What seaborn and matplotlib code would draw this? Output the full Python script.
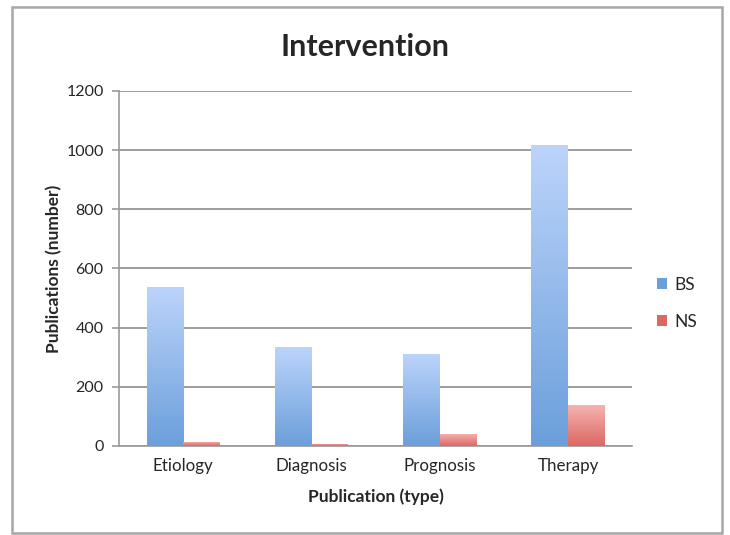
import numpy as np
import pandas as pd
import matplotlib
matplotlib.use("Agg")
import matplotlib.pyplot as plt
from matplotlib.colors import LinearSegmentedColormap
from matplotlib.patches import Rectangle
import seaborn as sns

CATEGORIES = ["Etiology", "Diagnosis", "Prognosis", "Therapy"]
SERIES = ["BS", "NS"]
BS_VALUES = [537, 334, 312, 1017]
NS_VALUES = [15, 8, 42, 140]
Y_TICKS = [0, 200, 400, 600, 800, 1000, 1200]

# top (light) -> bottom (dark) colours for each series
GRADIENTS = {
    "BS": ("#bcd4fb", "#6b9fdb"),
    "NS": ("#f6b5b2", "#dc6863"),
}


def main() -> None:
    sns.set_theme(style="white")
    plt.rcParams["font.family"] = ["Lato", "DejaVu Sans"]

    df = pd.DataFrame({
        "type": CATEGORIES * 2,
        "series": [SERIES[0]] * len(CATEGORIES) + [SERIES[1]] * len(CATEGORIES),
        "count": BS_VALUES + NS_VALUES,
    })

    fig = plt.figure(figsize=(7.3, 5.35), dpi=100)
    ax = fig.add_axes([0.163, 0.1664, 0.703, 0.6636])

    palette = {s: GRADIENTS[s][1] for s in SERIES}
    sns.barplot(data=df, x="type", y="count", hue="series", order=CATEGORIES,
                hue_order=SERIES, palette=palette, width=0.57, gap=0,
                saturation=1, ax=ax, legend=False, zorder=3)

    # gradient fill for each bar, clipped to the bar rectangle
    for container, s in zip(ax.containers, SERIES):
        cmap = LinearSegmentedColormap.from_list(s, [GRADIENTS[s][1], GRADIENTS[s][0]])
        for patch in container.patches:
            x0, y0 = patch.get_x(), patch.get_y()
            w, h = patch.get_width(), patch.get_height()
            grad = np.linspace(0, 1, 256).reshape(-1, 1)
            im = ax.imshow(grad, cmap=cmap, origin="lower", aspect="auto",
                           extent=[x0, x0 + w, y0, y0 + h], zorder=4)
            im.set_clip_path(patch)
            patch.set_edgecolor("none")

    ax.set_xlim(-0.5, len(CATEGORIES) - 0.5)
    ax.set_ylim(0, 1200)
    ax.set_yticks(Y_TICKS)
    ax.set_yticklabels([str(v) for v in Y_TICKS], fontsize=11.5)
    ax.set_xticks(range(len(CATEGORIES)))
    ax.set_xticklabels(CATEGORIES, fontsize=12.2)
    ax.set_xticks(np.arange(-0.5, len(CATEGORIES)), minor=True)
    ax.tick_params(axis="x", which="major", length=0, pad=9)
    ax.tick_params(axis="x", which="minor", length=5, color="#999999", width=1.2)
    ax.tick_params(axis="y", which="major", length=5, color="#999999", width=1.2,
                   left=True, pad=6)

    ax.grid(axis="y", color="#8c8c8c", linewidth=1.2, zorder=1)
    ax.set_axisbelow(True)
    for side in ["top", "right"]:
        ax.spines[side].set_visible(False)
    for side in ["left", "bottom"]:
        ax.spines[side].set_color("#999999")
        ax.spines[side].set_linewidth(1.2)

    ax.set_xlabel("Publication (type)", fontsize=12.5, fontweight="bold", labelpad=10)
    ax.set_ylabel("Publications (number)", fontsize=12.5, fontweight="bold", labelpad=3)
    fig.text(0.5, 0.912, "Intervention", ha="center", va="center",
             fontsize=22, fontweight="bold")

    # legend, Excel style
    handles = [Rectangle((0, 0), 1, 1, facecolor=GRADIENTS[s][1], edgecolor="none") for s in SERIES]
    fig.legend(handles, SERIES, loc="center left", bbox_to_anchor=(0.878, 0.433),
               frameon=False, fontsize=12.5, handlelength=0.6, handleheight=0.6,
               handletextpad=0.4, labelspacing=1.2)

    fig.patches.append(Rectangle((12 / 730, 2 / 535), 710 / 730, 526 / 535,
                                 transform=fig.transFigure, fill=False,
                                 edgecolor="#a6a6a6", linewidth=1.8))

    fig.savefig("out.png", dpi=100)
    plt.close(fig)


if __name__ == "__main__":
    main()
